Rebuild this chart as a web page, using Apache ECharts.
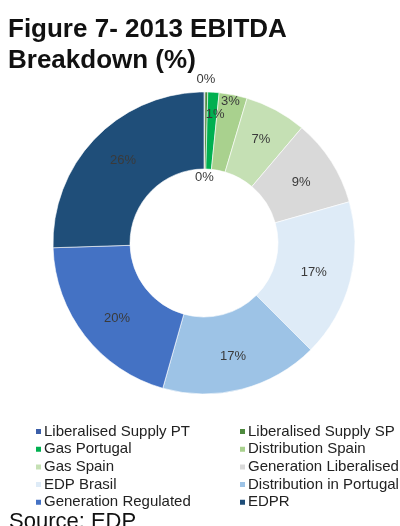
<!DOCTYPE html>
<html>
<head>
<meta charset="utf-8">
<script src="https://cdn.jsdelivr.net/npm/echarts@6/dist/echarts.min.js"></script>
<style>
html,body{margin:0;padding:0;background:#fff;}
#c{width:400px;height:526px;}
</style>
</head>
<body>
<div id="c"></div>
<script>
var categories = ['Liberalised Supply PT','Liberalised Supply SP','Gas Portugal','Distribution Spain','Gas Spain','Generation Liberalised','EDP Brasil','Distribution in Portugal','Generation Regulated','EDPR'];
var values = [0.1, 0.3, 1.2, 3.0, 6.6, 9.4, 16.9, 16.9, 20.1, 25.5];
var colors = ['#3b5ea8','#4e8a3e','#00b050','#a9d18e','#c5e0b4','#d9d9d9','#deebf7','#9dc3e6','#4472c4','#1f4e79'];
var leftLegend = ['Liberalised Supply PT','Gas Portugal','Gas Spain','EDP Brasil','Generation Regulated'];
var rightLegend = ['Liberalised Supply SP','Distribution Spain','Generation Liberalised','Distribution in Portugal','EDPR'];
var labelShift = [[0,50],[0,-48],[4,-13],[4,-28],[2,-2],[0,2],[-2,0],[0,2],[4,4],[2,-2]];

var chart = echarts.init(document.getElementById('c'));
var legendBase = {
  orient: 'vertical', icon: 'rect', itemWidth: 7, itemHeight: 7, itemGap: 2.7,
  textStyle: {fontFamily: 'Liberation Sans, Arial, sans-serif', fontSize: 15, color: '#222', padding: [0,0,0,-3]},
  selectedMode: false
};
chart.setOption({
  animation: false,
  color: colors,
  title: [{
    text: 'Figure 7- 2013 EBITDA\nBreakdown (%)', left: 3, top: 9,
    textStyle: {fontFamily: 'Liberation Sans, Arial, sans-serif', fontSize: 26, fontWeight: 'bold', color: '#111', lineHeight: 31}
  },{
    text: 'Source: EDP', left: 4, top: 506,
    textStyle: {fontFamily: 'Liberation Sans, Arial, sans-serif', fontSize: 22, fontWeight: 'normal', color: '#111'}
  }],
  legend: [
    Object.assign({}, legendBase, {left: 29, top: 419, data: leftLegend}),
    Object.assign({}, legendBase, {left: 233, top: 419, data: rightLegend})
  ],
  series: [{
    type: 'pie',
    center: [204, 243],
    radius: [74, 151],
    startAngle: 90,
    clockwise: true,
    avoidLabelOverlap: false,
    itemStyle: {borderColor: '#fff', borderWidth: 0.6},
    label: {
      show: true, position: 'inside',
      fontFamily: 'Liberation Sans, Arial, sans-serif', fontSize: 13, color: '#3a3a3a',
      formatter: function(p){ return Math.round(p.value) + '%'; }
    },
    labelLine: {show: false},
    labelLayout: function(p){ var s = labelShift[p.dataIndex]; return {dx: s[0], dy: s[1]}; },
    emphasis: {disabled: true},
    data: categories.map(function(n, i){ return {name: n, value: values[i]}; })
  }]
});
</script>
</body>
</html>
